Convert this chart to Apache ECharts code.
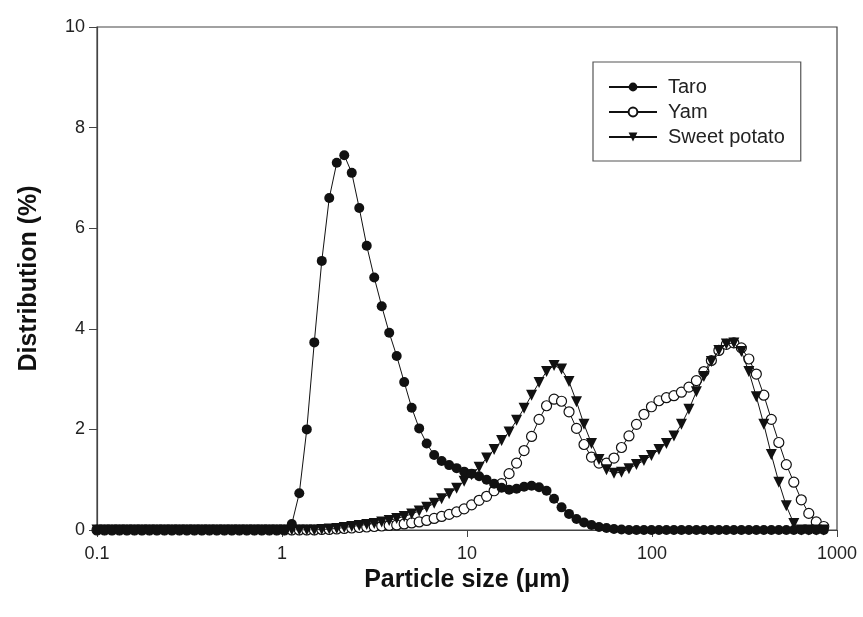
<!DOCTYPE html>
<html>
<head>
<meta charset="utf-8">
<script src="https://cdn.jsdelivr.net/npm/echarts@6/dist/echarts.min.js"></script>
<style>
html,body{margin:0;padding:0;background:#fff;}
#chart{width:863px;height:617px;}
</style>
</head>
<body>
<div id="chart"></div>
<script>
// Particle size classes (µm)
const sizes = [0.1,0.1098,0.1205,0.1323,0.1452,0.1594,0.175,0.1921,0.2109,0.2315,
0.2541,0.279,0.3062,0.3361,0.369,0.4051,0.4446,0.4881,0.5358,0.5882,
0.6457,0.7088,0.778,0.8541,0.9376,1.0292,1.1298,1.2402,1.3614,1.4945,
1.6406,1.8009,1.977,2.1702,2.3823,2.6152,2.8708,3.1514,3.4594,3.7975,
4.1687,4.5762,5.0234,5.5144,6.0534,6.645,7.2946,8.0075,8.7902,9.6494,
10.593,11.628,12.764,14.012,15.382,16.885,18.535,20.347,22.336,24.519,
26.915,29.546,32.434,35.604,39.084,42.905,47.098,51.701,56.754,62.302,
68.391,75.076,82.414,90.469,99.312,109.02,119.67,131.37,144.21,158.31,
173.78,190.77,209.41,229.88,252.35,277.02,304.09,333.81,366.44,402.26,
441.57,484.73,532.11,584.12,641.21,703.88,772.68,848.2];

const taro = [0,0,0,0,0,0,0,0,0,0,
0,0,0,0,0,0,0,0,0,0,
0,0,0,0,0,0,0.12,0.73,2.0,3.73,
5.35,6.6,7.3,7.45,7.1,6.4,5.65,5.02,4.45,3.92,
3.46,2.94,2.43,2.02,1.72,1.49,1.37,1.29,1.23,1.16,
1.12,1.07,1.0,0.92,0.84,0.8,0.82,0.86,0.88,0.85,
0.78,0.62,0.45,0.32,0.22,0.15,0.1,0.06,0.04,0.02,
0.01,0,0,0,0,0,0,0,0,0,
0,0,0,0,0,0,0,0,0,0,
0,0,0,0,0,0,0,0];

const yam = [0,0,0,0,0,0,0,0,0,0,
0,0,0,0,0,0,0,0,0,0,
0,0,0,0,0,0,0,0,0,0,
0.01,0.01,0.02,0.03,0.04,0.05,0.06,0.07,0.08,0.09,
0.1,0.12,0.14,0.16,0.19,0.23,0.27,0.31,0.36,0.42,
0.5,0.59,0.67,0.78,0.92,1.12,1.33,1.58,1.86,2.2,
2.47,2.6,2.56,2.35,2.02,1.7,1.45,1.33,1.33,1.43,
1.64,1.87,2.1,2.3,2.45,2.57,2.63,2.67,2.74,2.84,
2.97,3.15,3.37,3.57,3.69,3.72,3.62,3.4,3.1,2.68,
2.2,1.74,1.3,0.95,0.6,0.33,0.16,0.07];

const sweetPotato = [0,0,0,0,0,0,0,0,0,0,
0,0,0,0,0,0,0,0,0,0,
0,0,0,0,0,0,0,0,0,0,
0.01,0.02,0.03,0.05,0.07,0.09,0.11,0.13,0.16,0.19,
0.23,0.27,0.32,0.38,0.45,0.53,0.62,0.72,0.83,0.97,
1.1,1.25,1.43,1.6,1.78,1.95,2.18,2.42,2.68,2.93,
3.15,3.27,3.2,2.95,2.55,2.1,1.72,1.4,1.2,1.13,
1.15,1.22,1.3,1.38,1.48,1.6,1.72,1.87,2.1,2.4,
2.75,3.05,3.35,3.57,3.7,3.72,3.55,3.15,2.65,2.1,
1.5,0.95,0.48,0.13,0,0,0,0];

const seriesNames = ['Taro', 'Yam', 'Sweet potato'];
const xTicks = [0.1, 1, 10, 100, 1000];
const yTicks = [0, 2, 4, 6, 8, 10];

function pairs(vals) { return sizes.map((s, i) => [s, vals[i]]); }

const chart = echarts.init(document.getElementById('chart'), null, {renderer: 'canvas'});
const axisColor = '#444';
const font = 'Liberation Sans, Arial, sans-serif';

chart.setOption({
  backgroundColor: '#fff',
  animation: false,
  grid: {left: 97, right: 26, top: 27, bottom: 87, show: true, borderColor: axisColor, borderWidth: 1.2, backgroundColor: 'transparent'},
  legend: {
    data: seriesNames,
    orient: 'vertical',
    left: 593, top: 62,
    padding: [15, 16, 14, 15],
    itemGap: 5,
    itemWidth: 48, itemHeight: 11,
    borderColor: '#555', borderWidth: 1.2,
    textStyle: {fontFamily: font, fontSize: 20, color: '#222', padding: [0, 0, 0, 6]}
  },
  xAxis: {
    type: 'log', logBase: 10, min: xTicks[0], max: xTicks[xTicks.length - 1],
    name: 'Particle size (\u03bcm)', nameLocation: 'middle', nameGap: 36,
    nameTextStyle: {fontFamily: font, fontSize: 25, fontWeight: 'bold', color: '#111'},
    axisLine: {lineStyle: {color: axisColor, width: 1.2}},
    axisTick: {inside: false, length: 7, lineStyle: {color: axisColor}},
    axisLabel: {margin: 15, fontFamily: font, fontSize: 18, color: '#222',
      formatter: v => { const r = Number(Number(v).toPrecision(3)); return xTicks.indexOf(r) >= 0 ? String(r) : ''; }},
    splitLine: {show: false}, minorTick: {show: false}
  },
  yAxis: {
    type: 'value', min: yTicks[0], max: yTicks[yTicks.length - 1], interval: 2,
    name: 'Distribution (%)', nameLocation: 'middle', nameGap: 55,
    nameTextStyle: {fontFamily: font, fontSize: 25, fontWeight: 'bold', color: '#111'},
    axisLine: {show: true, lineStyle: {color: axisColor, width: 1.2}},
    axisTick: {show: true, inside: false, length: 8, lineStyle: {color: axisColor}},
    axisLabel: {margin: 12, fontFamily: font, fontSize: 18, color: '#222'},
    splitLine: {show: false}
  },
  series: [
    {
      name: seriesNames[1], type: 'line', data: pairs(yam), z: 2,
      symbol: 'circle', symbolSize: 10, showAllSymbol: true,
      lineStyle: {color: '#111', width: 1},
      itemStyle: {color: '#fff', borderColor: '#111', borderWidth: 1.2}
    },
    {
      name: seriesNames[2], type: 'line', data: pairs(sweetPotato), z: 3,
      symbol: 'triangle', symbolRotate: 180, symbolSize: 11, showAllSymbol: true,
      lineStyle: {color: '#111', width: 1},
      itemStyle: {color: '#111', borderColor: '#111', borderWidth: 0}
    },
    {
      name: seriesNames[0], type: 'line', data: pairs(taro), z: 4,
      symbol: 'circle', symbolSize: 10, showAllSymbol: true,
      lineStyle: {color: '#111', width: 1},
      itemStyle: {color: '#111', borderColor: '#111', borderWidth: 0}
    }
  ]
});
</script>
</body>
</html>
